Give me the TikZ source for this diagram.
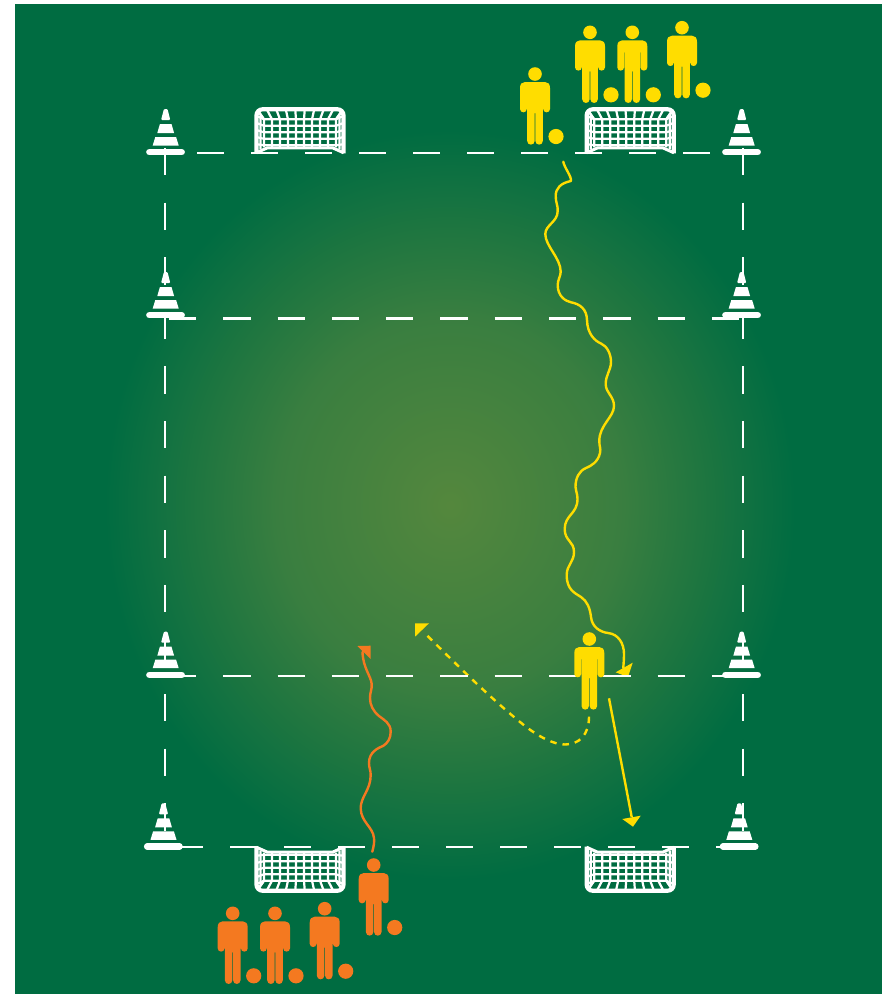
\documentclass[tikz,border=0pt]{standalone}
\definecolor{kityellow}{HTML}{FFDD00}
\definecolor{kitorange}{HTML}{F47920}
\definecolor{pitch}{HTML}{006C41}
\pgfdeclareradialshading{fieldglow}{\pgfpoint{0bp}{0bp}}{rgb(0bp)=(0.33,0.53,0.24); rgb(12.5bp)=(0.225,0.495,0.25); rgb(25bp)=(0,0.424,0.255); rgb(50bp)=(0,0.424,0.255)}
\tikzset{
  x=1pt,y=-1pt,
  fieldline/.style={white,line width=2.2pt},
  hdashA/.style={fieldline,dash pattern=on 27pt off 27pt},
  hdashB/.style={fieldline,dash pattern=on 27.3pt off 27pt},
  vdash/.style={fieldline,dash pattern=on 27.3pt off 27.3pt},
  run/.style={line width=2.4pt,line cap=round,line join=round},
  player/.pic={
    \fill[#1] (0,0) circle[radius=6.8pt];
    \fill[#1] (-10,8) .. controls (-13,8) and (-15,10) .. (-15,14) -- (-15,35)
      .. controls (-15,39.4) and (-8.2,39.4) .. (-8.2,35) -- (-8.2,20) -- (-7.8,20) -- (-7.8,67)
      .. controls (-7.8,71.8) and (-0.4,71.8) .. (-0.4,67) -- (-0.4,39) -- (0.4,39) -- (0.4,67)
      .. controls (0.4,71.8) and (7.8,71.8) .. (7.8,67) -- (7.8,20) -- (8.2,20) -- (8.2,35)
      .. controls (8.2,39.4) and (15,39.4) .. (15,35) -- (15,14)
      .. controls (15,10) and (13,8) .. (10,8) -- cycle;
  },
  ballplayer/.pic={
    \pic {player=#1};
    \fill[#1] (21,62.5) circle[radius=7.6pt];
  },
  cone/.pic={
    \fill[white,rounded corners=1pt] (-1.8,0) -- (1.8,0) -- (4.6,11) -- (-4.6,11) -- cycle;
    \fill[white] (-5.8,15) -- (5.8,15) -- (8.4,24) -- (-8.4,24) -- cycle;
    \fill[white] (-10.4,28) -- (10.4,28) -- (13,36.5) -- (-13,36.5) -- cycle;
    \draw[white,line width=6.5pt,line cap=round] (-16.3,43.2) -- (16,43.2);
  },
  goal/.pic={
    \draw[white,line width=2.2pt]
      \foreach \r in {0,...,9}{ ({45.5+(-36+8*\r)*1.17},3) -- ({45.5+(-36+8*\r)},12) -- ({45.5+(-36+8*\r)},40) };
    \draw[white,line width=2.2pt]
      \foreach \r in {0,...,4}{ (3,{9+7*\r}) -- (9.5,{12+6.5*\r}) -- (81.5,{12+6.5*\r}) -- (88,{9+7*\r}) };
    \draw[white,line width=2.2pt] (3,3) -- (9.5,12) (88,3) -- (81.5,12) (6,7) -- (6,42) (85,7) -- (85,42);
    \draw[white,line width=3pt] (1.75,45.5) -- (13,40.5) -- (78,40.5) -- (89.25,45.5);
    \draw[white,line width=4.2pt,rounded corners=6pt] (2,46) -- (2,2) -- (89,2) -- (89,46);
  },
}
\begin{document}
\begin{tikzpicture}
\useasboundingbox (0,0) rectangle (882,994);
\fill[pitch] (15,4) rectangle (882,994);
\begin{scope}
  \clip (15,4) rectangle (882,994);
  \shade[shading=fieldglow] (450,505) ellipse[x radius=345pt,y radius=375pt];
\end{scope}

% coordinates
\coordinate (tl) at (166,152.7);  \coordinate (tr) at (741,152.7);
\coordinate (ml) at (168.9,318.5);\coordinate (mr) at (741,318.5);
\coordinate (ll) at (168.9,675.7);\coordinate (lr) at (741,675.7);
\coordinate (bl) at (176.3,846.7);\coordinate (br) at (739,846.7);
\coordinate (vlt) at (165.3,148); \coordinate (vlb) at (165.3,847);
\coordinate (vrt) at (742.7,148); \coordinate (vrb) at (742.7,847);
\coordinate (shotstart) at (609,698.3);
\coordinate (shotend) at (631.7,817);
\coordinate (tipA) at (633,826.7);
\coordinate (runstart) at (563.3,161.7);
\coordinate (runend) at (623.3,668);
\coordinate (passstart) at (589,716.7);
\coordinate (passend) at (423.3,631.7);
\coordinate (orangestart) at (372.3,851.7);
\coordinate (orangeend) at (362.5,652);

% runs
\draw[kityellow,run] (runstart) .. controls (564.5,168) and (571.5,176) .. (571,181)
  .. controls (561,183) and (555.7,188) .. (555.7,196)
  .. controls (555.7,203) and (558,205) .. (557.7,211)
  .. controls (557.7,222) and (545.3,225) .. (545.3,234)
  .. controls (545.3,246) and (560.7,258) .. (560.7,271.7)
  .. controls (560.7,276) and (557.7,280) .. (557.7,285)
  .. controls (557.7,296) and (565,301) .. (571,302.3)
  .. controls (580,304) and (586.7,309) .. (587,320)
  .. controls (587.3,334) and (595,341) .. (601,343.5)
  .. controls (607,346) and (611,354) .. (611,362)
  .. controls (611,370) and (605.7,375) .. (605.7,384)
  .. controls (605.7,393) and (614,396) .. (614,406)
  .. controls (614,417) and (599.3,425) .. (599.3,441)
  .. controls (599.3,447) and (601,448) .. (600,453)
  .. controls (598,462) and (591,466) .. (586,468)
  .. controls (579,471) and (575.5,478) .. (575.5,487)
  .. controls (575.5,491) and (577.5,493) .. (577.5,499)
  .. controls (577.5,514) and (564.7,515) .. (564.7,529)
  .. controls (564.7,541) and (574,541) .. (574,552)
  .. controls (574,562) and (566.7,565) .. (566.7,575)
  .. controls (566.7,590) and (575,593) .. (581,597)
  .. controls (587,601) and (590,608) .. (591,617)
  .. controls (592,627) and (600,632) .. (608,633)
  .. controls (618,634) and (624,643) .. (624,654)
  .. controls (624,660) and (623.5,664) .. (runend);
\fill[kityellow] (615.7,672.3) -- (632.7,662.7) -- (628,677) -- cycle;

\draw[kityellow,run,line cap=butt,dash pattern=on 6.5pt off 6pt] (passstart)
  .. controls (589,735) and (579,744.5) .. (565,744.5)
  .. controls (553,744.5) and (538,736) .. (525,726)
  .. controls (490,698) and (455,663) .. (passend);
\fill[kityellow] (415,623.3) -- (429,623.3) -- (415,636.7) -- cycle;

\draw[kityellow,run,line cap=butt] (shotstart) -- (shotend);
\fill[kityellow] (622.3,819) -- (640.7,815.7) -- (tipA) -- cycle;

\draw[kitorange,run] (orangestart) .. controls (373.8,846) and (374.5,842) .. (374,838)
  .. controls (373,827) and (361,822) .. (360.7,808.5)
  .. controls (360.4,797) and (370.7,790) .. (370.7,775)
  .. controls (370.7,770) and (369,768) .. (369,763)
  .. controls (369,752) and (378,748) .. (383,746)
  .. controls (388,743) and (390.7,738) .. (390.7,731.7)
  .. controls (390.7,723) and (384,720) .. (379,716)
  .. controls (373,711) and (370,705) .. (370,698)
  .. controls (370,692) and (372,690) .. (371.7,684)
  .. controls (371,676) and (363,668) .. (orangeend);
\fill[kitorange] (357.3,646) -- (370.7,645.7) -- (370.7,659) -- cycle;

% field lines
\draw[hdashA,dash phase=23pt] (tl) -- (tr);
\draw[hdashB] (ml) -- (mr);
\draw[hdashB] (ll) -- (lr);
\draw[hdashA] (bl) -- (br);
\draw[vdash] (vlt) -- (vlb);
\draw[vdash] (vrt) -- (vrb);

% cones
\path (165.7,109) pic {cone};
\path (165.7,272) pic {cone};
\path (165.7,631.7) pic {cone};
\path (163.5,803.3) pic {cone};
\path (741.7,109) pic {cone};
\path (741.7,272) pic {cone};
\path (741.7,631.7) pic {cone};
\path (739.3,803.3) pic {cone};

% goals
\path (254.5,107.3) pic {goal};
\path (584.7,107.3) pic {goal};
\path (254.5,892.7) pic[yscale=-1] {goal};
\path (584.7,892.7) pic[yscale=-1] {goal};

% players
\path (535,74) pic {ballplayer=kityellow};
\path (590,32.3) pic {ballplayer=kityellow};
\path (632.3,32.3) pic {ballplayer=kityellow};
\path (682,27.7) pic {ballplayer=kityellow};
\path (589.3,639) pic {player=kityellow};
\path (232.7,913.3) pic {ballplayer=kitorange};
\path (275,913.3) pic {ballplayer=kitorange};
\path (324.7,908.7) pic {ballplayer=kitorange};
\path (373.7,865) pic {ballplayer=kitorange};
\end{tikzpicture}
\end{document}
